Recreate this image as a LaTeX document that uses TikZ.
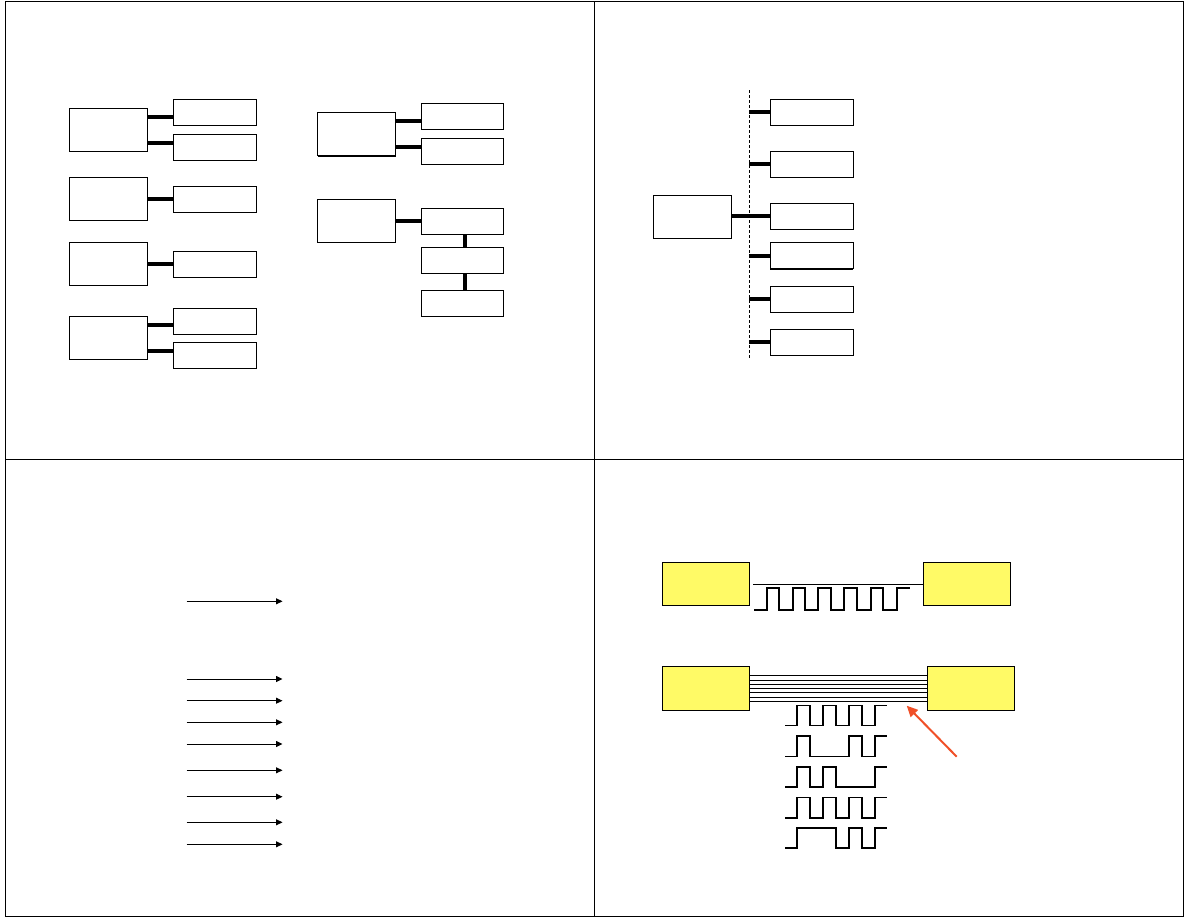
\documentclass[tikz,border=0pt]{standalone}
\usetikzlibrary{arrows.meta}
\definecolor{boxyellow}{RGB}{255,250,102}
\definecolor{arrowred}{RGB}{240,80,40}
\tikzset{
  box/.style={draw, line width=0.9pt, inner sep=0pt, outer sep=0pt, fill=white},
  bigbox/.style={box, minimum width=78pt, minimum height=43pt},
  smallbox/.style={box, minimum width=83pt, minimum height=26pt},
  ybox/.style={draw, line width=0.9pt, fill=boxyellow, inner sep=0pt, outer sep=0pt, minimum width=87pt, minimum height=43pt},
  conn/.style={line width=4pt},
  bus/.style={line width=0.8pt, dash pattern=on 3pt off 2pt},
  arr/.style={line width=0.9pt, -{Triangle[length=6.5pt,width=6pt]}},
  redarr/.style={draw=arrowred, line width=2pt, -{Triangle[length=11pt,width=10pt]}},
  wave/.style={line width=1.9pt, line join=miter},
  thin/.style={line width=0.9pt},
  frame/.style={line width=1.2pt}
}
\begin{document}
\begin{tikzpicture}[x=1pt,y=-1pt]
\useasboundingbox (0,0) rectangle (1188,918);
% frame
\draw[frame] (5.3,1.3) rectangle (1183.7,916.7);
\draw[frame] (594.3,1.3) -- (594.3,916.7);
\draw[frame] (5.3,459.3) -- (1183.7,459.3);

% ---------- Quadrant 1, left column ----------
\node[bigbox] (b1) at (108.3,129.8) {};
\node[smallbox] (s1a) at (214.8,112.3) {};
\node[smallbox] (s1b) at (214.8,147.3) {};
\draw[conn] (b1.east |- 0,116.7) -- (s1a.west |- 0,116.7);
\draw[conn] (b1.east |- 0,142.7) -- (s1b.west |- 0,142.7);

\node[bigbox] (b2) at (108.3,199.3) {};
\node[smallbox] (s2) at (214.8,199.3) {};
\draw[conn] (b2.east) -- (s2.west);

\node[bigbox] (b3) at (108.3,264.3) {};
\node[smallbox] (s3) at (214.8,264.3) {};
\draw[conn] (b3.east) -- (s3.west);

\node[bigbox] (b4) at (108.3,338.3) {};
\node[smallbox] (s4a) at (214.8,321.3) {};
\node[smallbox] (s4b) at (214.8,355.3) {};
\draw[conn] (b4.east |- 0,325.3) -- (s4a.west |- 0,325.3);
\draw[conn] (b4.east |- 0,351.3) -- (s4b.west |- 0,351.3);

% ---------- Quadrant 1, right column ----------
\node[bigbox, minimum height=43.4pt] (bA) at (356.5,134) {};
\draw[line width=2pt] (bA.south west) -- (bA.south east);
\node[smallbox, minimum width=82pt] (sA1) at (462.3,116.3) {};
\node[smallbox, minimum width=82pt] (sA2) at (462.3,151.2) {};
\draw[conn] (bA.east |- 0,120.7) -- (sA1.west |- 0,120.7);
\draw[conn] (bA.east |- 0,146.7) -- (sA2.west |- 0,146.7);

\node[bigbox, minimum height=43.4pt] (bB) at (356.5,220.7) {};
\node[smallbox, minimum width=82pt] (sB1) at (462.3,221.2) {};
\node[smallbox, minimum width=82pt] (sB2) at (462.3,260.3) {};
\node[smallbox, minimum width=82pt] (sB3) at (462.3,303.3) {};
\draw[conn] (bB.east |- 0,220.7) -- (sB1.west |- 0,220.7);
\draw[conn] (sB1.south -| 464.7,0) -- (sB2.north -| 464.7,0);
\draw[conn] (sB2.south -| 464.7,0) -- (sB3.north -| 464.7,0);

% ---------- Quadrant 2 ----------
\coordinate (busT) at (749.3,90);
\coordinate (busB) at (749.3,359.3);
\draw[bus] (busT) -- (busB);
\node[bigbox] (hub) at (692.3,216.7) {};
\node[smallbox] (c1) at (811.8,112.3) {};
\node[smallbox] (c2) at (811.8,164.2) {};
\node[smallbox] (c3) at (811.8,216.3) {};
\node[smallbox] (c4) at (811.8,255.7) {};
\node[smallbox] (c5) at (811.8,299.2) {};
\node[smallbox] (c6) at (811.8,342.3) {};
\draw[line width=2pt] (c4.south west) -- (c4.south east);
\draw[conn] (c1.west) -- (c1.west -| busT);
\draw[conn] (c2.west) -- (c2.west -| busT);
\draw[conn] (hub.east |- c3.west) -- (c3.west);
\draw[conn] (c4.west) -- (c4.west -| busT);
\draw[conn] (c5.west) -- (c5.west -| busT);
\draw[conn] (c6.west) -- (c6.west -| busT);

% ---------- Quadrant 3 ----------
\foreach \i/\y in {1/601.3,2/679,3/700.7,4/722.3,5/744,6/770.3,7/796.7,8/822.3,9/844.3}{
  \coordinate (as\i) at (186.7,\y);
  \coordinate (ae\i) at (282.5,\y);
  \draw[arr] (as\i) -- (ae\i);
}

% ---------- Quadrant 4 ----------
\node[ybox] (Y1) at (705.8,583.7) {};
\node[ybox, minimum width=87.4pt] (Y2) at (967,583.7) {};
\coordinate (w0) at (753.3,584);
\draw[thin] (w0) -- (w0 -| Y2.west);
\draw[wave] (754.3,610) -- (766.7,610) -- (766.7,588.3) -- (779.3,588.3) -- (779.3,610)
  -- (792.7,610) -- (792.7,588.3) -- (805.3,588.3) -- (805.3,610)
  -- (818.3,610) -- (818.3,588.3) -- (831,588.3) -- (831,610)
  -- (844.3,610) -- (844.3,588.3) -- (857,588.3) -- (857,610)
  -- (870.7,610) -- (870.7,588.3) -- (883.3,588.3) -- (883.3,610)
  -- (896.7,610) -- (896.7,588.3) -- (910,588.3);

\node[ybox, minimum height=43.7pt] (Y3) at (705.8,688.2) {};
\node[ybox, minimum width=86.7pt, minimum height=43.7pt] (Y4) at (970.7,688.2) {};
\foreach \y in {675.7,680,684.3,688.6,692.9,697.2,701.5}{
  \draw[thin] (Y3.east |- 0,\y) -- (Y4.west |- 0,\y);
}
% wave 1 : 1010101
\draw[wave] (785,725.5) -- (796.7,725.5) -- (796.7,705.5) -- (810,705.5) -- (810,725.5)
  -- (822.7,725.5) -- (822.7,705.5) -- (836,705.5) -- (836,725.5)
  -- (849,725.5) -- (849,705.5) -- (862.3,705.5) -- (862.3,725.5)
  -- (875.3,725.5) -- (875.3,705.5) -- (887.3,705.5);
% wave 2 : 1000101
\draw[wave] (785,756.5) -- (796.7,756.5) -- (796.7,736) -- (810,736) -- (810,756.5)
  -- (849,756.5) -- (849,736) -- (862.3,736) -- (862.3,756.5)
  -- (875.3,756.5) -- (875.3,736) -- (887.3,736);
% wave 3 : 1010001
\draw[wave] (785,787.3) -- (796.7,787.3) -- (796.7,766.8) -- (810,766.8) -- (810,787.3)
  -- (822.7,787.3) -- (822.7,766.8) -- (836,766.8) -- (836,787.3)
  -- (875.3,787.3) -- (875.3,766.8) -- (887.3,766.8);
% wave 4 : 1010101
\draw[wave] (785,818.3) -- (796.7,818.3) -- (796.7,797.5) -- (810,797.5) -- (810,818.3)
  -- (822.7,818.3) -- (822.7,797.5) -- (836,797.5) -- (836,818.3)
  -- (849,818.3) -- (849,797.5) -- (862.3,797.5) -- (862.3,818.3)
  -- (875.3,818.3) -- (875.3,797.5) -- (887.3,797.5);
% wave 5 : 1110101
\draw[wave] (785,848.3) -- (796.7,848.3) -- (796.7,827.8) -- (836,827.8) -- (836,848.3)
  -- (849,848.3) -- (849,827.8) -- (862.3,827.8) -- (862.3,848.3)
  -- (875.3,848.3) -- (875.3,827.8) -- (887.3,827.8);

\coordinate (rs) at (956.7,756.7);
\coordinate (re) at (906.7,705.7);
\draw[redarr] (rs) -- (re);
\end{tikzpicture}
\end{document}
